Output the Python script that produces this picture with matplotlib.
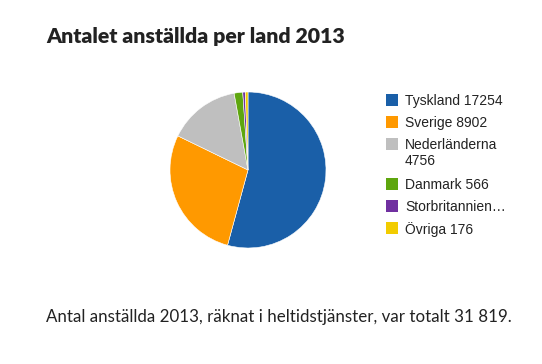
import matplotlib
matplotlib.use('Agg')
import matplotlib.pyplot as plt
from matplotlib.patches import Rectangle

# data
countries = ['Tyskland', 'Sverige', 'Nederländerna', 'Danmark', 'Storbritannien', 'Övriga']
employees = [17254, 8902, 4756, 566, 165, 176]
colors = ['#1a5fa8', '#ff9900', '#bfbfbf', '#5ea60e', '#7030a0', '#f2cc00']
legend_labels = ['Tyskland 17254', 'Sverige 8902', 'Nederländerna\n4756',
                 'Danmark 566', 'Storbritannien…', 'Övriga 176']
title = 'Antalet anställda per land 2013'
footer = 'Antal anställda 2013, räknat i heltidstjänster, var totalt 31 819.'

W, H = 542, 364
fig = plt.figure(figsize=(W / 100, H / 100), dpi=100)
fig.patch.set_facecolor('white')

# pie, centre ~ (248,170) px, radius ~78 px
cx, cy, r = 248, 170, 78
ax = fig.add_axes([(cx - r) / W, (H - cy - r) / H, 2 * r / W, 2 * r / H])
ax.pie(employees, colors=colors, startangle=90, counterclock=False,
       wedgeprops=dict(edgecolor='white', linewidth=0.4))
ax.set_aspect('equal')
ax.set_xlim(-1, 1)
ax.set_ylim(-1, 1)

fig.text(46 / W, 1 - 36 / H, title, fontsize=15.3, fontweight='heavy',
         family='Lato', color='#222222', va='center', ha='left')
fig.text(46 / W, 1 - 317 / H, footer, fontsize=12.2, family='Lato',
         color='#222222', va='center', ha='left')

# legend drawn by hand
lax = fig.add_axes([0, 0, 1, 1])
lax.set_xlim(0, W)
lax.set_ylim(H, 0)
lax.axis('off')
rows_y = [100, 122, 144, 184, 206, 228]
for y, c, lab in zip(rows_y, colors, legend_labels):
    lax.add_patch(Rectangle((386, y - 6), 12, 12, facecolor=c, edgecolor='none'))
    lax.text(405, y - 6, lab, fontsize=10, family='Liberation Sans',
             color='#222222', va='top', ha='left', linespacing=1.15)

fig.savefig('out.png', dpi=100)
